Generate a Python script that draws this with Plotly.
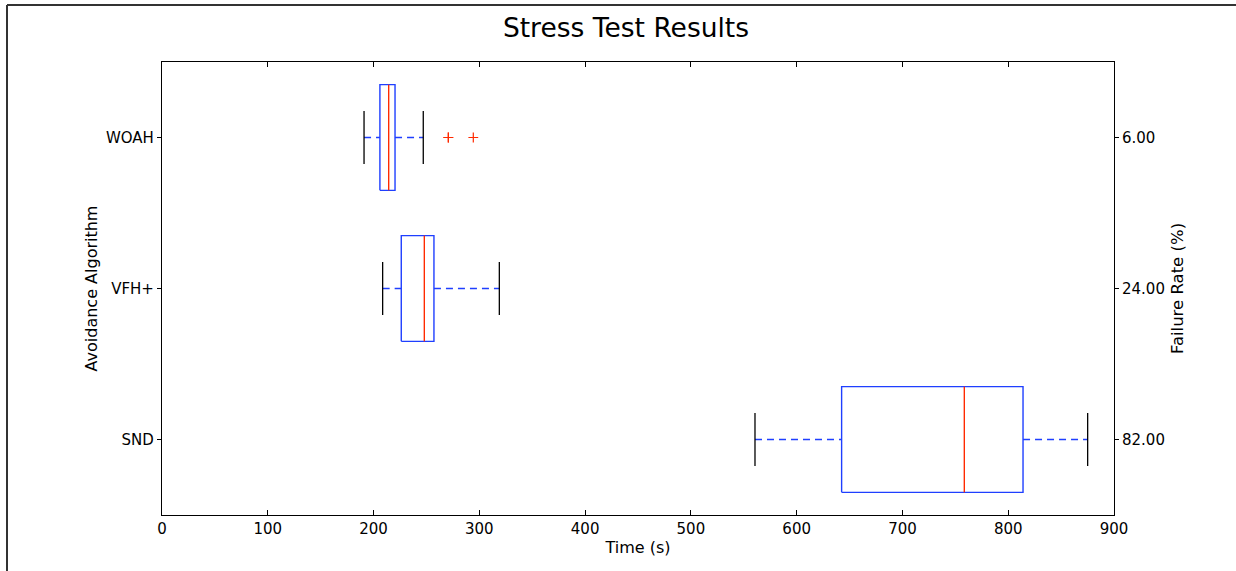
import plotly.graph_objects as go

# ---- data ----
categories = ["SND", "VFH+", "WOAH"]
failure_rate = ["82.00", "24.00", "6.00"]
lower_whisker = [560.6, 208.6, 191.0]
q1 = [642.5, 226.2, 206.0]
median = [758.5, 248.0, 214.3]
q3 = [814.0, 257.1, 220.3]
upper_whisker = [875.1, 318.9, 247.0]
outliers = {"WOAH": [270.7, 270.7, 294.3]}
x_ticks = [0, 100, 200, 300, 400, 500, 600, 700, 800, 900]

BOX_HALF = 0.35
CAP_HALF = 0.175

positions = list(range(1, len(categories) + 1))

box_x, box_y = [], []
med_x, med_y = [], []
wh_x, wh_y = [], []
cap_x, cap_y = [], []
out_x, out_y = [], []
for i, c in enumerate(categories):
    p = positions[i]
    box_x += [q1[i], q3[i], q3[i], q1[i], q1[i], None]
    box_y += [p - BOX_HALF, p - BOX_HALF, p + BOX_HALF, p + BOX_HALF, p - BOX_HALF, None]
    med_x += [median[i], median[i], None]
    med_y += [p - BOX_HALF, p + BOX_HALF, None]
    wh_x += [lower_whisker[i], q1[i], None, q3[i], upper_whisker[i], None]
    wh_y += [p, p, None, p, p, None]
    cap_x += [lower_whisker[i], lower_whisker[i], None, upper_whisker[i], upper_whisker[i], None]
    cap_y += [p - CAP_HALF, p + CAP_HALF, None, p - CAP_HALF, p + CAP_HALF, None]
    for v in outliers.get(c, []):
        out_x.append(v)
        out_y.append(p)

fig = go.Figure()
fig.add_trace(go.Scatter(x=wh_x, y=wh_y, mode="lines",
                         line=dict(color="#1f3fff", width=1.6, dash="7px,5px"),
                         hoverinfo="skip"))
fig.add_trace(go.Scatter(x=cap_x, y=cap_y, mode="lines",
                         line=dict(color="black", width=1.3), hoverinfo="skip"))
fig.add_trace(go.Scatter(x=box_x, y=box_y, mode="lines",
                         line=dict(color="#1f3fff", width=1.4), hoverinfo="skip"))
fig.add_trace(go.Scatter(x=med_x, y=med_y, mode="lines",
                         line=dict(color="#ff2a00", width=1.4), hoverinfo="skip"))
fig.add_trace(go.Scatter(x=out_x, y=out_y, mode="markers",
                         marker=dict(symbol="cross-thin", size=7,
                                     line=dict(color="#ff2a00", width=1.2)),
                         hoverinfo="skip"))
# invisible trace to anchor the right axis
fig.add_trace(go.Scatter(x=[None], y=[None], yaxis="y2", mode="markers",
                         showlegend=False, hoverinfo="skip"))

font_family = "DejaVu Sans, sans-serif"
fig.update_layout(
    width=1236, height=571,
    margin=dict(l=162, r=122, t=62, b=56),
    paper_bgcolor="white", plot_bgcolor="white",
    showlegend=False,
    font=dict(family=font_family, size=15, color="black"),
    title=dict(text="Stress Test Results", x=626 / 1236, xref="container",
               xanchor="center", y=1 - 28 / 571, yref="container",
               yanchor="middle", font=dict(size=26.5, color="black")),
    xaxis=dict(range=[0, 900], tickvals=x_ticks, ticks="inside", ticklen=5,
               tickcolor="black", showline=True, linecolor="black",
               linewidth=1.2, mirror="ticks", showgrid=False, zeroline=False,
               title=dict(text="Time (s)", standoff=4, font=dict(size=16)),
               tickfont=dict(size=15)),
    yaxis=dict(range=[0.5, 3.5], tickvals=positions, ticktext=categories,
               ticks="outside", ticklen=4, tickcolor="black", showline=True,
               linecolor="black", linewidth=1.2, mirror=True, showgrid=False,
               zeroline=False,
               title=dict(text="Avoidance Algorithm", standoff=4, font=dict(size=16)),
               tickfont=dict(size=15)),
    yaxis2=dict(range=[0.5, 3.5], tickvals=positions, ticktext=failure_rate,
                overlaying="y", side="right", ticks="outside", ticklen=4,
                tickcolor="black", showline=False, showgrid=False,
                zeroline=False,
                title=dict(text="Failure Rate (%)", standoff=7, font=dict(size=16.5)),
                tickfont=dict(size=15)),
    shapes=[
        dict(type="line", xref="paper", yref="paper",
             x0=(7 - 162) / 952, x1=1.2, y0=(515 - 5) / 453, y1=(515 - 5) / 453,
             line=dict(color="#333333", width=2)),
        dict(type="line", xref="paper", yref="paper",
             x0=(7 - 162) / 952, x1=(7 - 162) / 952, y0=(515 - 5) / 453, y1=-0.3,
             line=dict(color="#333333", width=2)),
    ],
)

fig.write_html("out.html")
